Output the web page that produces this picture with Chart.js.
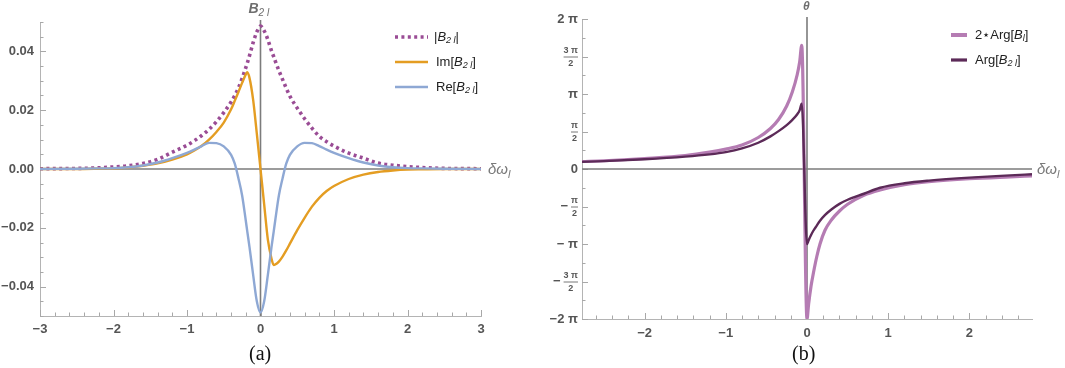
<!DOCTYPE html>
<html>
<head>
<meta charset="utf-8">
<script src="https://cdn.jsdelivr.net/npm/chart.js@4.4.1/dist/chart.umd.min.js"></script>
<style>
  body { margin: 0; background: #fff; width: 1065px; height: 368px; overflow: hidden; position: relative; }
  canvas { position: absolute; top: 0; }
  #ca { left: 0; }
  #cb { left: 530px; }
  .cap { position: absolute; top: 342px; font: 20px "Liberation Serif", "Times New Roman", serif; line-height: 22px; color: #111; }
</style>
</head>
<body>
<canvas id="ca" width="530" height="368"></canvas>
<canvas id="cb" width="535" height="368"></canvas>
<div class="cap" style="left:249px">(a)</div>
<div class="cap" style="left:792px">(b)</div>
<script>
// panel (a): B_2l vs detuning
const xA = [-3, -2.5, -2.2, -2, -1.8, -1.6, -1.4, -1.2, -1, -0.9, -0.8, -0.7, -0.6, -0.5, -0.4, -0.35, -0.3, -0.25, -0.2, -0.18, -0.15, -0.1, -0.05,
            0, 0.05, 0.1, 0.15, 0.18, 0.2, 0.25, 0.3, 0.35, 0.4, 0.5, 0.6, 0.7, 0.8, 0.9, 1, 1.2, 1.4, 1.6, 1.8, 2, 2.2, 2.5, 3];
const absB = [0.0001, 0.0002, 0.0004, 0.0007, 0.0011, 0.0019, 0.0033, 0.0057, 0.0081, 0.0096, 0.0114, 0.0135, 0.0161, 0.0192, 0.0228, 0.0250, 0.0276, 0.0308, 0.0345, 0.0360, 0.0385, 0.0430, 0.0466,
              0.0486, 0.0470, 0.0440, 0.0402, 0.0382, 0.0368, 0.0335, 0.0305, 0.0275, 0.0248, 0.0207, 0.0171, 0.0139, 0.0111, 0.0093, 0.0078, 0.0054, 0.0037, 0.0020, 0.0013, 0.0008, 0.0005, 0.0002, 0.0001];
const imB = [0, 0, 0.0001, 0.0002, 0.0005, 0.0011, 0.0019, 0.0032, 0.0050, 0.0063, 0.0079, 0.0100, 0.0126, 0.0158, 0.0203, 0.0232, 0.0262, 0.0293, 0.0322, 0.0329, 0.0310, 0.0235, 0.0120,
             0, -0.0120, -0.0240, -0.0305, -0.0327, -0.0325, -0.0315, -0.0298, -0.0277, -0.0254, -0.0208, -0.0166, -0.0128, -0.0098, -0.0075, -0.0058, -0.0034, -0.0019, -0.0010, -0.0005, -0.0002, -0.0001, 0, 0];
const reB = [0, 0.0001, 0.0002, 0.0003, 0.0006, 0.0012, 0.0022, 0.0037, 0.0055, 0.0066, 0.0078, 0.0089, 0.0088, 0.0077, 0.0048, 0.0018, -0.0032, -0.0090, -0.0176, -0.0212, -0.0265, -0.0360, -0.0450,
             -0.0488, -0.0450, -0.0360, -0.0265, -0.0212, -0.0176, -0.0090, -0.0032, 0.0018, 0.0048, 0.0077, 0.0089, 0.0088, 0.0078, 0.0066, 0.0055, 0.0037, 0.0022, 0.0012, 0.0006, 0.0003, 0.0002, 0.0001, 0];
const xTicksA = [-3, -2, -1, 0, 1, 2, 3];
const yTicksA = [-0.04, -0.02, 0, 0.02, 0.04];

// panel (b): phases, in units of pi
const xB = [-2.77, -2.5, -2, -1.5, -1.2, -1, -0.8, -0.6, -0.45, -0.35, -0.25, -0.18, -0.12, -0.09, -0.065,
            0, 0.02, 0.05, 0.08, 0.12, 0.16, 0.22, 0.3, 0.4, 0.5, 0.7, 0.9, 1.2, 1.5, 2, 2.5, 2.77];
const twoArgBl = [0.10, 0.11, 0.14, 0.18, 0.225, 0.265, 0.32, 0.42, 0.54, 0.66, 0.84, 1.03, 1.26, 1.43, 1.65,
                  -2.0, -1.8, -1.56, -1.38, -1.17, -1.0, -0.82, -0.68, -0.56, -0.47, -0.35, -0.28, -0.21, -0.17, -0.13, -0.105, -0.093];
const argB2l = [0.095, 0.105, 0.13, 0.165, 0.195, 0.225, 0.275, 0.35, 0.435, 0.505, 0.585, 0.655, 0.73, 0.785, 0.87,
                -1.0, -0.95, -0.88, -0.82, -0.755, -0.69, -0.615, -0.54, -0.465, -0.41, -0.33, -0.25, -0.19, -0.155, -0.115, -0.085, -0.07];
const xTicksB = [-2, -1, 0, 1, 2];
const yTicksB = [-2, -1.5, -1, -0.5, 0, 0.5, 1, 1.5, 2];

const FONT = '"Liberation Sans", Arial, sans-serif';
const pts = (xs, ys) => xs.map((x, i) => ({ x: x, y: ys[i] }));
const minus = s => String(s).replace('-', '\u2212');

function rich(ctx, x, y, parts, size, color) {
  ctx.fillStyle = color;
  ctx.textBaseline = 'middle';
  ctx.textAlign = 'left';
  let cx = x;
  for (const [t, st] of parts) {
    const sub = st.includes('s');
    const fs = sub ? Math.round(size * 0.72) : size;
    ctx.font = (st.includes('i') ? 'italic ' : '') + (st.includes('b') ? 'bold ' : '') + fs + 'px ' + FONT;
    ctx.fillText(t, cx, y + (sub ? size * 0.3 : 0));
    cx += ctx.measureText(t).width;
  }
}

function frameTicks(chart, xStep, yStep, xMaj, yMaj) {
  const { ctx, chartArea: a, scales: { x, y } } = chart;
  ctx.save();
  ctx.strokeStyle = '#a8a8a8';
  ctx.lineWidth = 1;
  ctx.beginPath();
  for (let k = Math.ceil(x.min / xStep - 1e-9); k * xStep <= x.max + 1e-9; k++) {
    const v = k * xStep;
    const px = Math.round(x.getPixelForValue(v)) + 0.5;
    const len = xMaj.some(m => Math.abs(m - v) < 1e-9) ? 6 : 3.5;
    ctx.moveTo(px, a.bottom);
    ctx.lineTo(px, a.bottom - len);
  }
  for (let k = Math.ceil(y.min / yStep - 1e-9); k * yStep <= y.max + 1e-9; k++) {
    const v = k * yStep;
    const py = Math.round(y.getPixelForValue(v)) + 0.5;
    const len = yMaj.some(m => Math.abs(m - v) < 1e-9) ? 6 : 3.5;
    ctx.moveTo(a.left, py);
    ctx.lineTo(a.left + len, py);
  }
  ctx.stroke();
  // origin axes
  ctx.strokeStyle = '#7c7c7c';
  ctx.lineWidth = 1.6;
  const x0 = x.getPixelForValue(0), y0 = y.getPixelForValue(0);
  ctx.beginPath();
  ctx.moveTo(x0, a.top - 2);
  ctx.lineTo(x0, a.bottom);
  ctx.moveTo(a.left, y0);
  ctx.lineTo(a.right, y0);
  ctx.stroke();
  ctx.restore();
}

function legendLine(ctx, x1, x2, y, color, w, dash) {
  ctx.save();
  ctx.strokeStyle = color;
  ctx.lineWidth = w;
  ctx.setLineDash(dash || []);
  ctx.beginPath();
  ctx.moveTo(x1, y);
  ctx.lineTo(x2, y);
  ctx.stroke();
  ctx.restore();
}

const panelA = {
  id: 'panelA',
  beforeDatasetsDraw(chart) {
    frameTicks(chart, 0.2, 0.005, xTicksA, yTicksA);
  },
  afterDraw(chart) {
    const { ctx, scales: { x, y } } = chart;
    const x0 = x.getPixelForValue(0), y0 = y.getPixelForValue(0);
    rich(ctx, x0 - 12, 9, [['B', 'ib'], ['2 l', 'is']], 14, '#6e6e6e');
    rich(ctx, 488, y0 + 1, [['\u03b4\u03c9', 'i'], ['l', 'is']], 15, '#7a7a7a');
    legendLine(ctx, 395, 428, 37, '#9a4c95', 3.6, [3, 3.4]);
    legendLine(ctx, 395, 428, 62, '#e49d22', 2.6);
    legendLine(ctx, 395, 428, 87, '#8ea8d4', 2.6);
    rich(ctx, 434, 37, [['|', 'n'], ['B', 'i'], ['2 l', 'is'], ['|', 'n']], 13, '#222');
    rich(ctx, 436, 62, [['Im[', 'n'], ['B', 'i'], ['2 l', 'is'], [']', 'n']], 13, '#222');
    rich(ctx, 436, 87, [['Re[', 'n'], ['B', 'i'], ['2 l', 'is'], [']', 'n']], 13, '#222');
  }
};

const panelB = {
  id: 'panelB',
  beforeDatasetsDraw(chart) {
    frameTicks(chart, 0.2, 0.25, xTicksB, yTicksB);
  },
  afterDraw(chart) {
    const { ctx, chartArea: a, scales: { x, y } } = chart;
    const x0 = x.getPixelForValue(0), y0 = y.getPixelForValue(0);
    // y tick labels in multiples of pi
    const right = a.left - 4;
    ctx.save();
    ctx.fillStyle = '#555';
    ctx.strokeStyle = '#555';
    ctx.textBaseline = 'middle';
    yTicksB.forEach(v => {
      const py = y.getPixelForValue(v);
      const n = Math.abs(v), neg = v < 0 ? '\u2212' : '';
      if (n === 0.5 || n === 1.5) {
        ctx.font = 'bold 9px ' + FONT;
        const num = n === 1.5 ? '3 \u03c0' : '\u03c0';
        const w = Math.max(ctx.measureText(num).width, 7);
        const cx = right - w / 2;
        ctx.textAlign = 'center';
        ctx.fillText(num, cx, py - 6);
        ctx.fillText('2', cx, py + 7);
        ctx.lineWidth = 0.8;
        ctx.beginPath();
        ctx.moveTo(right - w, py + 0.5);
        ctx.lineTo(right, py + 0.5);
        ctx.stroke();
        if (neg) {
          ctx.font = 'bold 13px ' + FONT;
          ctx.textAlign = 'right';
          ctx.fillText(neg, right - w - 3, py);
        }
      } else {
        ctx.font = 'bold 13px ' + FONT;
        ctx.textAlign = 'right';
        let s = n === 0 ? '0' : (n === 1 ? '\u03c0' : '2 \u03c0');
        if (neg) s = neg + (n === 1 ? ' ' : '') + s;
        ctx.fillText(s, right, py);
      }
    });
    ctx.restore();
    rich(ctx, x0 - 4, 7, [['\u03b8', 'ib']], 12, '#6e6e6e');
    rich(ctx, 507, y0 + 1, [['\u03b4\u03c9', 'i'], ['l', 'is']], 15, '#7a7a7a');
    legendLine(ctx, 421, 437, 35, '#b57cb3', 4);
    legendLine(ctx, 421, 437, 60, '#5c2a58', 3.2);
    rich(ctx, 445, 35, [['2\u22c6Arg[', 'n'], ['B', 'i'], ['l', 'is'], [']', 'n']], 13, '#222');
    rich(ctx, 445, 60, [['Arg[', 'n'], ['B', 'i'], ['2 l', 'is'], [']', 'n']], 13, '#222');
  }
};

const tickFont = { size: 13, weight: 'bold', family: FONT };
const common = {
  responsive: false,
  animation: false,
  devicePixelRatio: 1,
  elements: { point: { radius: 0 }, line: { cubicInterpolationMode: 'monotone', fill: false } },
  plugins: { legend: { display: false }, tooltip: { enabled: false } }
};

new Chart(document.getElementById('ca'), {
  type: 'line',
  data: {
    datasets: [
      { data: pts(xA, reB), borderColor: '#8ea8d4', borderWidth: 2.4 },
      { data: pts(xA, imB), borderColor: '#e49d22', borderWidth: 2.4 },
      { data: pts(xA, absB), borderColor: '#9a4c95', borderWidth: 3.6, borderDash: [3, 3.4] }
    ]
  },
  options: Object.assign({}, common, {
    layout: { padding: { left: 0, right: 49, top: 22, bottom: 0 } },
    scales: {
      x: {
        type: 'linear', min: -3, max: 3,
        grid: { display: false, drawTicks: false },
        border: { display: true, color: '#b4b4b4' },
        afterBuildTicks: s => { s.ticks = xTicksA.map(v => ({ value: v })); },
        afterFit: s => { s.height = 52; },
        ticks: { padding: 6, color: '#555', font: tickFont, maxRotation: 0, autoSkip: false, callback: v => minus(v) }
      },
      y: {
        min: -0.05, max: 0.05,
        grid: { display: false, drawTicks: false },
        border: { display: true, color: '#b4b4b4' },
        afterBuildTicks: s => { s.ticks = yTicksA.map(v => ({ value: v })); },
        afterFit: s => { s.width = 40; },
        ticks: { padding: 6, color: '#555', font: tickFont, autoSkip: false, callback: v => (v < 0 ? '\u2212' : '') + Math.abs(v).toFixed(2) }
      }
    }
  }),
  plugins: [panelA]
});

new Chart(document.getElementById('cb'), {
  type: 'line',
  data: {
    datasets: [
      { data: pts(xB, argB2l), borderColor: '#5c2a58', borderWidth: 2.4 },
      { data: pts(xB, twoArgBl), borderColor: '#b57cb3', borderWidth: 3.2 }
    ]
  },
  options: Object.assign({}, common, {
    layout: { padding: { left: 0, right: 33, top: 19, bottom: 0 } },
    scales: {
      x: {
        type: 'linear', min: -2.77, max: 2.77,
        grid: { display: false, drawTicks: false },
        border: { display: true, color: '#b4b4b4' },
        afterBuildTicks: s => { s.ticks = xTicksB.map(v => ({ value: v })); },
        afterFit: s => { s.height = 49; },
        ticks: { padding: 7, color: '#555', font: tickFont, maxRotation: 0, autoSkip: false, callback: v => minus(v) }
      },
      y: {
        min: -2, max: 2,
        grid: { display: false, drawTicks: false },
        border: { display: true, color: '#b4b4b4' },
        afterBuildTicks: s => { s.ticks = yTicksB.map(v => ({ value: v })); },
        afterFit: s => { s.width = 52; },
        ticks: { display: false }
      }
    }
  }),
  plugins: [panelB]
});
</script>
</body>
</html>
